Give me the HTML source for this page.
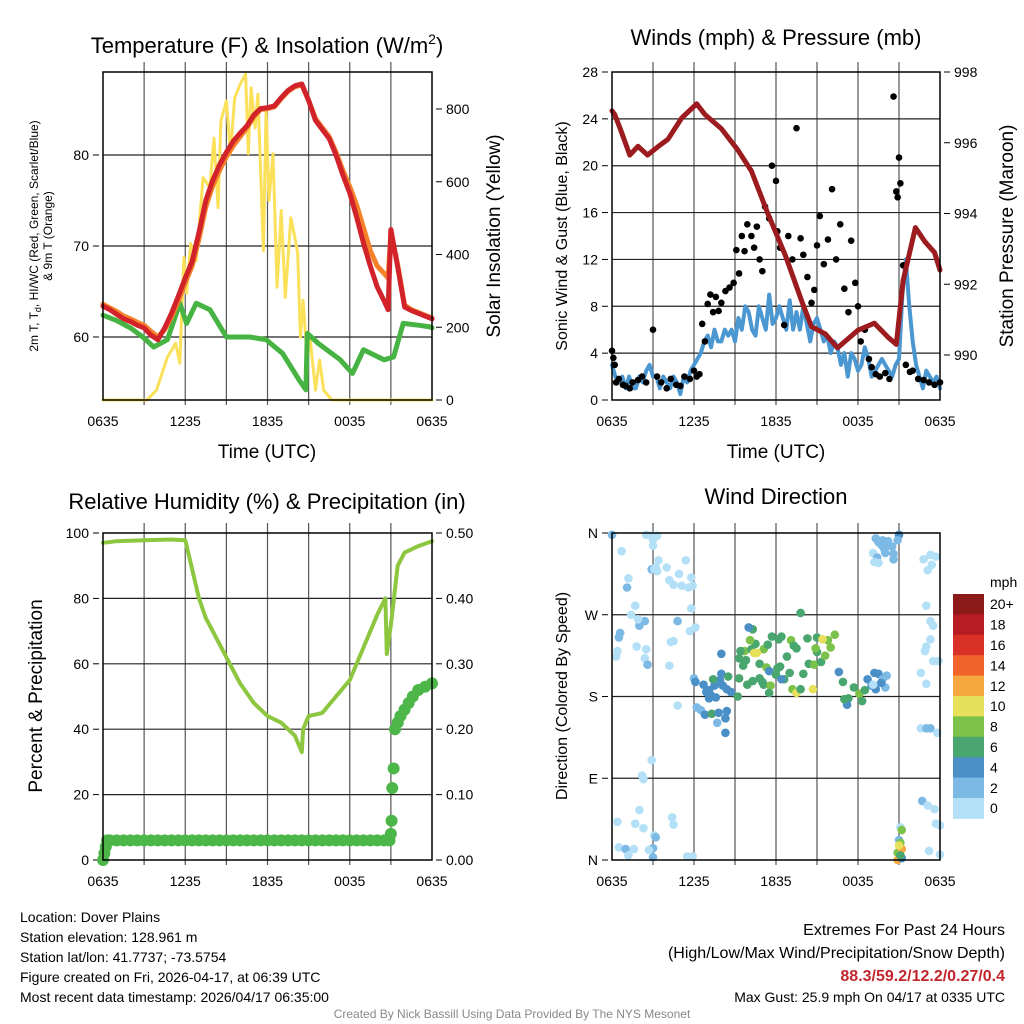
<!DOCTYPE html>
<html><head><meta charset="utf-8"><style>
html,body{margin:0;padding:0;background:#fff}
svg{display:block;font-family:"Liberation Sans",sans-serif}
</style></head><body>
<svg id="c" width="1024" height="1024" viewBox="0 0 1024 1024" xmlns="http://www.w3.org/2000/svg">
<g id="g"></g>
<text x="267" y="53" font-size="22" text-anchor="middle">Temperature (F) &amp; Insolation (W/m<tspan dy="-9" font-size="14">2</tspan><tspan dy="9">)</tspan></text>
<text x="776" y="45" font-size="22" text-anchor="middle">Winds (mph) &amp; Pressure (mb)</text>
<text x="267" y="509" font-size="22" text-anchor="middle">Relative Humidity (%) &amp; Precipitation (in)</text>
<text x="776" y="504" font-size="22" text-anchor="middle">Wind Direction</text>
<text transform="translate(38,236) rotate(-90)" font-size="12" text-anchor="middle">2m T, T<tspan dy="3" font-size="9">d</tspan><tspan dy="-3">, HI/WC (Red, Green, Scarlet/Blue)</tspan></text>
<text transform="translate(52,236) rotate(-90)" font-size="12" text-anchor="middle">&amp; 9m T (Orange)</text>
<text transform="translate(500,236) rotate(-90)" font-size="19" text-anchor="middle">Solar Insolation (Yellow)</text>
<text transform="translate(567,236) rotate(-90)" font-size="16" text-anchor="middle">Sonic Wind &amp; Gust (Blue, Black)</text>
<text transform="translate(1013,236) rotate(-90)" font-size="19" text-anchor="middle">Station Pressure (Maroon)</text>
<text transform="translate(42,696) rotate(-90)" font-size="19" text-anchor="middle">Percent &amp; Precipitation</text>
<text transform="translate(567,696) rotate(-90)" font-size="16" text-anchor="middle">Direction (Colored By Speed)</text>
<text x="267" y="458" font-size="19" text-anchor="middle">Time (UTC)</text>
<text x="776" y="458" font-size="19" text-anchor="middle">Time (UTC)</text>
<g font-size="14">
<text x="20" y="922">Location: Dover Plains</text>
<text x="20" y="942">Station elevation: 128.961 m</text>
<text x="20" y="962">Station lat/lon: 41.7737; -73.5754</text>
<text x="20" y="982">Figure created on Fri, 2026-04-17, at 06:39 UTC</text>
<text x="20" y="1002">Most recent data timestamp: 2026/04/17 06:35:00</text>
</g>
<g text-anchor="end">
<text x="1005" y="935" font-size="16">Extremes For Past 24 Hours</text>
<text x="1005" y="958" font-size="16">(High/Low/Max Wind/Precipitation/Snow Depth)</text>
<text x="1005" y="981" font-size="16" font-weight="bold" fill="#c1272d">88.3/59.2/12.2/0.27/0.4</text>
<text x="1005" y="1002" font-size="14">Max Gust: 25.9 mph On 04/17 at 0335 UTC</text>
</g>
<text x="512" y="1018" font-size="12" fill="#888" text-anchor="middle">Created By Nick Bassill Using Data Provided By The NYS Mesonet</text>
</svg>
<script>
const timeTicks=["0635","1235","1835","0035","0635"];
const tempTimes=[0,0.5,1,1.5,2,2.5,3,3.5,4,4.5,5,5.5,6,6.5,7,7.5,8,8.5,9,9.5,10,10.5,11,11.5,12,12.5,13,13.5,14,14.5,15,15.5,16,16.5,17,17.5,18,18.5,19,19.5,20,20.5,20.8,21,21.5,22,22.5,23,23.5,24];
const tempRed=[63.4,63.0,62.5,62.0,61.7,61.3,61.0,60.2,59.7,61.0,62.6,64.5,66.5,68.3,71.5,75.0,77.2,78.9,80.3,81.5,82.4,83.2,84.4,85.1,85.2,85.4,86.3,87.1,87.6,87.8,86.0,83.8,82.8,81.8,80.0,77.8,75.8,73.2,70.3,67.8,65.5,64.0,63.0,71.8,67.7,63.3,62.9,62.6,62.3,62.0];
const tempOrange=[63.6,63.2,62.8,62.3,62.0,61.6,61.3,60.6,60.0,60.8,62.2,64.0,66.0,67.8,70.8,74.3,76.6,78.3,79.8,81.0,82.0,83.0,84.2,85.0,85.1,85.3,86.2,87.0,87.5,87.7,86.0,84.0,83.0,82.0,80.3,78.3,76.5,74.5,72.0,69.5,67.8,67.0,66.5,71.5,67.9,63.5,63.0,62.7,62.4,62.1];
const dewTimes=[0,1,2,2.9,3.7,4.7,5.6,6.1,6.8,7.8,9,10.7,11.9,13.1,14.3,14.8,14.9,15.7,17.3,18.2,19,20.5,21.2,21.9,23,23.9,24];
const dewVals=[62.4,61.8,61.0,60.0,58.9,59.7,63.7,61.5,63.7,63.0,60.0,60.0,59.7,58.2,55.3,54.2,60.4,59.3,57.5,56.0,58.6,57.5,57.8,61.5,61.3,61.1,61.0];
const solarTimes=[0,3.2,3.9,4.7,5.3,5.6,5.9,6.1,6.4,6.8,7.3,7.8,8.1,8.4,8.6,9,9.3,9.6,10,10.4,10.6,10.8,11.1,11.3,11.7,11.9,12.1,12.4,12.7,13,13.3,13.7,14,14.2,14.4,14.6,14.9,15.1,15.5,15.8,16.1,16.7,24];
const solarVals=[0,0,27,118,156,101,392,293,430,383,611,584,720,529,767,822,677,830,868,896,677,858,748,841,411,803,548,677,310,521,282,501,447,403,173,274,110,173,27,110,27,0,0];
const windVals=[3,2,1.5,2,1,2,1,1,2,1.5,2.5,3,2,2,1,2,1.5,1,2,1.5,0.5,2,1.5,2.5,3,3.5,4,5,5.5,4.5,6,5,5,6,5.5,6,5,7,6,8,7.5,6,5.5,8,7,6,9,6.5,7,8,7,6,8.5,6,7.5,6,8,6.5,5,6.5,7,6,5,5.5,4,5,4.5,3,4,2,4,3.5,2.5,3,4.5,3.5,2,2.5,3,3.5,3,2.5,2,3,3.5,9,12,8,5,3,2,1,2.5,2,1.5,2,1];
const gustTimes=[0,0.1,0.2,0.3,0.5,0.8,1,1.3,1.5,1.9,2.2,2.5,3,3.3,3.6,4,4.3,4.7,5,5.3,5.7,6,6.2,6.4,6.6,6.8,7,7.2,7.4,7.6,7.8,8,8.3,8.6,8.9,9.1,9.3,9.5,9.7,9.9,10.2,10.4,10.6,10.8,11,11.2,11.5,11.7,12,12.1,12.3,12.6,12.9,13.2,13.5,13.8,14,14.3,14.6,14.8,15,15.2,15.5,15.8,16.1,16.4,16.7,17,17.3,17.5,17.8,18,18.2,18.5,18.8,19,19.3,19.6,20,20.3,20.6,20.8,20.9,21,21.1,21.3,21.5,21.8,22,22.4,22.8,23.2,23.6,24];
const gustVals=[4.2,3.6,3,1.5,1.8,1.3,1.2,1,1.5,1.7,2,1.5,6,2,1.5,1,1.8,1.3,1.2,2,1.8,2.5,2,2.2,6.5,5,8.2,9,7.5,8.8,7.6,8.3,9.3,9.6,10,12.8,10.8,14,12.7,15,14,13,14.8,12,11,16.5,15.5,20,18.7,14.4,13,6.4,14,12,23.2,13.8,12.4,10.5,8.3,9.4,13.2,15.7,11.6,13.7,18,12,15,9.5,7.5,13.6,10,8,5,6,3.5,2.8,2.2,2,2.3,1.8,25.9,17.8,17.3,20.7,18.5,11.5,3,2.4,2.5,1.8,1.7,1.5,1.3,1.5];
const presTimes=[0,0.2,0.6,1.3,1.9,2.6,3.4,4.1,5.1,6.2,6.8,8.0,9.2,10.2,11.4,12.7,13.9,14.6,15.6,16.5,18.0,19.2,20.2,20.8,21.3,22.2,22.9,23.6,24];
const presVals=[996.9,996.8,996.4,995.65,995.9,995.65,995.9,996.1,996.7,997.1,996.8,996.4,995.8,995.2,994.0,992.8,991.5,990.8,990.6,990.2,990.7,990.9,990.5,990.3,992.1,993.6,993.2,992.9,992.4];
const rhTimes=[0,1,3,5,6,6.5,7,7.5,8,9,10,11,12,13,14,14.5,14.6,15,16,17,18,19,20,20.6,20.7,21,21.5,22,23,24];
const rhVals=[97,97.5,97.8,98,97.8,89,80,74,70,62,54,48,44,42,38,33,40,44,45,50,55,65,75,80,63,72,90,94,96,97.5];
const precipTimes=[0,0.1,0.2,0.3,0.5,1,1.5,2,2.5,3,3.5,4,4.5,5,5.5,6,6.5,7,7.5,8,8.5,9,9.5,10,10.5,11,11.5,12,12.5,13,13.5,14,14.5,15,15.5,16,16.5,17,17.5,18,18.5,19,19.5,20,20.5,20.9,21,21.05,21.1,21.2,21.3,21.5,21.7,22,22.3,22.6,23,23.5,24];
const precipVals=[0,0.01,0.02,0.03,0.03,0.03,0.03,0.03,0.03,0.03,0.03,0.03,0.03,0.03,0.03,0.03,0.03,0.03,0.03,0.03,0.03,0.03,0.03,0.03,0.03,0.03,0.03,0.03,0.03,0.03,0.03,0.03,0.03,0.03,0.03,0.03,0.03,0.03,0.03,0.03,0.03,0.03,0.03,0.03,0.03,0.03,0.04,0.06,0.11,0.14,0.2,0.21,0.22,0.23,0.24,0.25,0.26,0.265,0.27];
const dirTimes=[0,0.7,1.1,1.2,0.5,0.6,0.4,1.4,1.7,2.5,2.9,3.3,3.0,3.0,2.9,3.1,3.2,3.4,3.3,4.0,4.2,4.9,4.5,5.4,5.8,5.1,5.6,5.9,2.0,2.4,1.9,4.8,5.8,6.1,5.7,4.3,4.5,2.5,2.4,1.8,0.3,4.2,2.6,4.8,2.9,2.2,2.3,2.0,4.4,4.5,1.7,0.4,2.3,3.1,3.2,0.5,1.0,1.2,3.0,3.0,5.5,5.9,2.7,1.6,6.0,6.1,6.7,6.9,7.1,7.1,6.2,6.5,6.8,7.3,8.4,7.8,8.3,7.7,8.3,7.6,7.2,7.5,7.9,8.1,8.4,8.7,7.4,8.0,8.5,9.2,9.3,9.6,9.8,9.7,8.0,9.3,9.4,10.2,10.5,11.1,10.8,11.3,9.9,10.3,10.8,11.1,11.6,11.5,12.0,12.1,12.3,12.6,13.0,13.2,13.5,13.8,14.0,14.4,14.8,15.0,15.3,15.6,15.8,16.0,16.6,16.9,17.3,17.2,17.0,17.7,18.1,18.5,18.7,19.0,19.2,19.5,20.0,19.8,20.1,19.7,19.3,18.3,12.8,10.1,10.3,10.0,12.2,12.4,14.9,13.1,13.3,13.5,14.3,15.0,16.3,15.4,11.7,11.4,13.8,10.4,10.6,14.7,11.0,11.5,12.4,19.3,19.5,19.7,19.9,20.2,20.5,20.0,19.1,19.4,19.5,20.6,20.6,21.0,19.8,20.3,19.2,20.9,23.3,22.8,23.7,23.1,23.4,23.0,23.3,23.5,23.0,22.9,23.3,22.6,23.5,23.9,23.0,19.1,22.6,23.0,23.3,23.8,22.7,23.1,23.6,23.7,24.0,23.2,24.0,21.1,21.2,21.0,21.1,20.9,20.9,21.2,21.2,21.1,21.0];
const dirVals=[358,340,300,310,245,250,230,270,280,358,357,357,353,346,320,320,322,330,318,322,308,315,303,330,311,302,300,302,258,263,265,263,277,256,252,240,241,232,222,235,224,214,215,170,110,93,89,55,47,39,40,42,35,27,25,14,12,5,13,3,4,4,11,12,200,196,193,185,187,178,168,165,160,161,164,162,156,151,140,179,182,192,198,192,188,185,199,205,202,180,200,214,220,230,227,222,230,232,238,232,216,212,193,197,200,193,192,208,204,211,213,199,206,188,184,188,205,216,215,229,218,225,242,234,207,196,178,171,177,190,183,187,199,192,206,205,190,199,203,195,188,175,224,242,254,256,243,246,233,242,236,233,244,245,248,243,246,237,272,228,228,188,196,184,199,354,350,347,343,351,345,338,338,333,327,337,331,358,352,346,328,352,336,331,334,319,325,280,263,258,235,230,243,206,219,219,194,193,145,145,145,140,65,60,56,40,38,10,6,36,33,22,19,8,0,12,2,5,16];
const dirSpeeds=[3,1,2,1,2,2,1,1,1,1,1,1,1,1,3,1,1,1,1,1,1,1,1,1,1,1,1,1,2,2,1,3,1,1,1,1,1,1,1,1,1,1,3,1,1,1,1,1,1,1,1,1,1,1,3,1,3,1,3,3,1,1,1,1,3,4,4,4,4,4,3,2,4,6,4,5,4,3,4,4,4,4,4,4,4,5,6,5,6,6,6,7,6,8,4,6,6,6,7,8,7,8,7,7,6,6,8,4,6,7,7,6,7,8,10,7,6,7,8,7,7,8,9,8,4,6,6,4,7,6,8,7,5,4,5,4,3,2,2,4,4,7,6,8,7,5,6,7,8,8,6,6,7,6,8,10,6,7,6,10,10,10,7,6,5,2,2,2,2,2,2,2,1,2,1,2,3,4,2,2,1,2,1,1,1,1,1,1,1,1,1,1,1,1,1,1,1,1,1,3,3,1,2,1,1,1,1,1,1,1,8,3,8,8,12,12,4,6,10,6];
const cbLabels=["20+","18","16","14","12","10","8","6","4","2","0"];
const cbColors=["#8c1a1a","#b71c23","#d93128","#f0632a","#f6a840","#e6e05a","#7cc24a","#49a66e","#4a8fc6","#7db9e5","#b3e0f7"];

const NS="http://www.w3.org/2000/svg";
const G=document.getElementById('g');
function mk(tag,attrs,parent){const e=document.createElementNS(NS,tag);for(const k in attrs)e.setAttribute(k,attrs[k]);(parent||G).appendChild(e);return e;}
function lin(d0,d1,r0,r1){return v=>r0+(v-d0)*(r1-r0)/(d1-d0);}

function panel(name,x0,x1,y0,y1){
  const gp=mk('g',{});
  
  
  const xs=lin(0,24,x0,x1);
  for(let h=3;h<24;h+=3){const l=mk('line',{x1:xs(h),x2:xs(h),y1:y0-10,y2:y1+5,stroke:'#555','stroke-width':1.2},gp);
    
    }
  timeTicks.forEach((lab,i)=>{const t=mk('text',{x:xs(i*6),y:y1+26,'font-size':14,'text-anchor':'middle'},gp);t.textContent=lab;
    
    });
  return {gp,xs};
}
function hgrid(gp,name,ys,x0,x1){const l=mk('line',{x1:x0,x2:x1,y1:ys,y2:ys,stroke:'#222','stroke-width':1.2},gp);
  
  }
function ylab(gp,name,x,y,txt,anchor){const t=mk('text',{x:x,y:y+5,'font-size':14,'text-anchor':anchor},gp);t.textContent=txt;
  
  
  const tk=mk('line',{x1:anchor==='end'?x+4:x-10,x2:anchor==='end'?x+10:x-4,y1:y,y2:y,stroke:'#000'},gp);
  
  }
function frame(gp,name,x0,x1,y0,y1){const r=mk('rect',{x:x0,y:y0,width:x1-x0,height:y1-y0,fill:'none',stroke:'#000','stroke-width':1.5},gp);
  
  }
function path(gp,name,ts,vs,xs,ys,color,w){let d='';ts.forEach((t,i)=>{d+=(i?'L':'M')+xs(t).toFixed(1)+','+ys(vs[i]).toFixed(1);});
  const p=mk('path',{d:d,fill:'none',stroke:color,'stroke-width':w,'stroke-linejoin':'round','stroke-linecap':'round'},gp);
  
  return p;}

(function(){
  const x0=103,x1=432,y0=72,y1=400;
  const {gp,xs}=panel('temp',x0,x1,y0,y1);
  const ys=lin(60,70,337,246), ysR=lin(0,800,400,109);
  [60,70,80].forEach(v=>{hgrid(gp,'temp',ys(v),x0,x1);ylab(gp,'temp-y-tick-label',x0-14,ys(v),String(v),'end');});
  [0,200,400,600,800].forEach(v=>ylab(gp,'solar-y-tick-label',x1+14,ysR(v),String(v),'start'));
  path(gp,'solar-insolation-line',solarTimes,solarVals,xs,ysR,'#fbe05a',3);
  path(gp,'dewpoint-line',dewTimes,dewVals,xs,ys,'#46b343',5);
  path(gp,'temp-9m-line',tempTimes,tempOrange,xs,ys,'#f5822a',5);
  path(gp,'temp-2m-line',tempTimes,tempRed,xs,ys,'#d2232a',5);
  frame(gp,'temp',x0,x1,y0,y1);
})();

(function(){
  const x0=612,x1=940,y0=72,y1=400;
  const {gp,xs}=panel('wind',x0,x1,y0,y1);
  const ys=lin(0,28,400,72), ysR=lin(990,998,355,72);
  [0,4,8,12,16,20,24,28].forEach(v=>{if(v>0&&v<28)hgrid(gp,'wind',ys(v),x0,x1);ylab(gp,'wind-y-tick-label',x0-14,ys(v),String(v),'end');});
  [990,992,994,996,998].forEach(v=>ylab(gp,'pressure-y-tick-label',x1+14,ysR(v),String(v),'start'));
  const wt=windVals.map((v,i)=>i*0.25);
  path(gp,'sonic-wind-line',wt,windVals,xs,ys,'#4b97d2',4);
  gustTimes.forEach((t,i)=>{const c=mk('circle',{cx:xs(t),cy:ys(gustVals[i]),r:3.3,fill:'#000'},gp);
    
    });
  path(gp,'pressure-line',presTimes,presVals,xs,ysR,'#9b1b1e',5);
  frame(gp,'wind',x0,x1,y0,y1);
})();

(function(){
  const x0=103,x1=432,y0=533,y1=860;
  const {gp,xs}=panel('rh',x0,x1,y0,y1);
  const ys=lin(0,100,860,533), ysR=lin(0,0.5,860,533);
  [0,20,40,60,80,100].forEach(v=>{if(v>0&&v<100)hgrid(gp,'rh',ys(v),x0,x1);ylab(gp,'rh-y-tick-label',x0-14,ys(v),String(v),'end');});
  [0,0.1,0.2,0.3,0.4,0.5].forEach(v=>ylab(gp,'precip-y-tick-label',x1+14,ysR(v),v.toFixed(2),'start'));
  path(gp,'rh-line',rhTimes,rhVals,xs,ys,'#8dc63f',4);
  precipTimes.forEach((t,i)=>{const c=mk('circle',{cx:xs(t),cy:ysR(precipVals[i]),r:6,fill:'#4cb648'},gp);
    
    });
  frame(gp,'rh',x0,x1,y0,y1);
})();

(function(){
  const x0=612,x1=940,y0=533,y1=860;
  const {gp,xs}=panel('dir',x0,x1,y0,y1);
  const ys=lin(0,360,860,533);
  [[0,'N'],[90,'E'],[180,'S'],[270,'W'],[360,'N']].forEach(([v,l])=>{if(v>0&&v<360)hgrid(gp,'dir',ys(v),x0,x1);ylab(gp,'dir-y-tick-label',x0-14,ys(v),l,'end');});
  dirTimes.forEach((t,i)=>{const b=Math.min(10,Math.floor(dirSpeeds[i]/2));
    const c=mk('circle',{cx:xs(t),cy:ys(dirVals[i]),r:4.3,fill:cbColors[10-b]},gp);
    
    });
  frame(gp,'dir',x0,x1,y0,y1);
  const cb=mk('g',{});
  
  
  const h=20.4;
  cbColors.forEach((col,i)=>{const r=mk('rect',{x:953,y:594+i*h,width:31,height:h+0.5,fill:col},cb);
    
    
    const t=mk('text',{x:990,y:594+i*h+h/2+5,'font-size':14},cb);t.textContent=cbLabels[i];
    
    });
  const u=mk('text',{x:990,y:587,'font-size':14},cb);u.textContent='mph';
  
  
})();
</script>
</body></html>
